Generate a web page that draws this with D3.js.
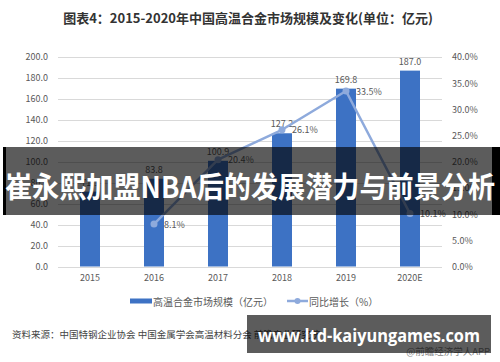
<!DOCTYPE html>
<html>
<head>
<meta charset="utf-8">
<script src="https://cdn.jsdelivr.net/npm/d3@7"></script>
<style>
  html, body { margin: 0; padding: 0; background: #fff; }
  svg { display: block; }
  text { font-family: "Noto Sans CJK SC", "Noto Sans", sans-serif; }
</style>
</head>
<body>
<svg id="chart" width="500" height="362"></svg>
<script>
const titleText = "图表4：2015-2020年中国高温合金市场规模及变化(单位：亿元)";
const years = ["2015", "2016", "2017", "2018", "2019", "2020E"];
const marketSize = [71.5, 83.8, 100.9, 127.2, 169.8, 187.0];
const growth = [null, 8.1, 20.4, 26.1, 33.5, 10.1];
const leftTicks = [0, 20, 40, 60, 80, 100, 120, 140, 160, 180, 200];
const rightTicks = [0, 5, 10, 15, 20, 25, 30, 35, 40];
const legendBar = "高温合金市场规模（亿元）";
const legendLine = "同比增长（%）";
const sourceText = "资料来源：中国特钢企业协会 中国金属学会高温材料分会 前瞻产业研究院";
const creditText = "@前瞻经济学人APP";
const bannerText = "崔永熙加盟NBA后的发展潜力与前景分析";
const urlText = "www.ltd-kaiyungames.com";

const svg = d3.select("#chart");
const barColor = "#3d72c4";
const lineColor = "#8eaadc";
const textColor = "#595959";

const x = d3.scaleBand().domain(years).range([58, 442]).paddingInner(0.6875).paddingOuter(0.34375);
const yL = d3.scaleLinear().domain([0, 200]).range([266.5, 57]);
const yR = d3.scaleLinear().domain([0, 40]).range([266.5, 57]);

// title
svg.append("text").attr("x", 248).attr("y", 17).attr("text-anchor", "middle")
  .attr("dominant-baseline", "central").attr("font-size", 13).attr("font-weight", "bold")
  .attr("fill", "#333").text(titleText);

// gridlines
svg.append("g").selectAll("line").data(leftTicks).join("line")
  .attr("x1", 58).attr("x2", 442)
  .attr("y1", d => Math.round(yL(d)) + 0.5).attr("y2", d => Math.round(yL(d)) + 0.5)
  .attr("stroke", "#d9d9d9").attr("stroke-width", 1);

// left axis
const axL = d3.axisLeft(yL).tickValues(leftTicks).tickFormat(d3.format(".1f")).tickSize(0).tickPadding(10);
const gL = svg.append("g").attr("transform", "translate(58,0)").call(axL);
gL.select(".domain").remove();
gL.selectAll("text").attr("font-size", 9).attr("fill", textColor)
  .attr("font-family", "'Noto Sans CJK SC', sans-serif");

// right axis
const axR = d3.axisRight(yR).tickValues(rightTicks).tickFormat(d => d3.format(".1f")(d) + "%").tickSize(0).tickPadding(10);
const gR = svg.append("g").attr("transform", "translate(442,0)").call(axR);
gR.select(".domain").remove();
gR.selectAll("text").attr("font-size", 9).attr("fill", textColor)
  .attr("font-family", "'Noto Sans CJK SC', sans-serif");

// bottom axis
const axB = d3.axisBottom(x).tickSize(0).tickPadding(8);
const gB = svg.append("g").attr("transform", "translate(0,266.5)").call(axB);
gB.select(".domain").remove();
gB.selectAll("text").attr("font-size", 9).attr("fill", textColor)
  .attr("font-family", "'Noto Sans CJK SC', sans-serif");

// bars
svg.append("g").selectAll("rect").data(years).join("rect")
  .attr("x", d => x(d)).attr("width", x.bandwidth())
  .attr("y", (d, i) => yL(marketSize[i])).attr("height", (d, i) => yL(0) - yL(marketSize[i]))
  .attr("fill", barColor);

// bar labels
svg.append("g").selectAll("text").data(years).join("text")
  .attr("x", d => x(d) + x.bandwidth() / 2).attr("y", (d, i) => yL(marketSize[i]) - 6)
  .attr("text-anchor", "middle").attr("font-size", 9).attr("fill", textColor)
  .text((d, i) => d3.format(".1f")(marketSize[i]));

// line
const pts = years.map((d, i) => ({ d, v: growth[i] })).filter(p => p.v != null);
const line = d3.line().x(p => x(p.d) + x.bandwidth() / 2).y(p => yR(p.v));
svg.append("path").datum(pts).attr("d", line).attr("fill", "none")
  .attr("stroke", lineColor).attr("stroke-width", 2.5).attr("stroke-linejoin", "round");
svg.append("g").selectAll("circle").data(pts).join("circle")
  .attr("cx", p => x(p.d) + x.bandwidth() / 2).attr("cy", p => yR(p.v)).attr("r", 3.5)
  .attr("fill", lineColor);
svg.append("g").selectAll("text").data(pts).join("text")
  .attr("x", p => x(p.d) + x.bandwidth() / 2 + 10).attr("y", p => yR(p.v))
  .attr("dominant-baseline", "central").attr("font-size", 9).attr("fill", textColor)
  .text(p => d3.format(".1f")(p.v) + "%");

// legend
const lg = svg.append("g");
lg.append("rect").attr("x", 130).attr("y", 298.5).attr("width", 22).attr("height", 5).attr("fill", barColor);
lg.append("text").attr("x", 153).attr("y", 301).attr("dominant-baseline", "central")
  .attr("font-size", 10).attr("fill", textColor).text(legendBar);
lg.append("line").attr("x1", 287).attr("x2", 308).attr("y1", 301).attr("y2", 301)
  .attr("stroke", lineColor).attr("stroke-width", 2.5);
lg.append("circle").attr("cx", 297.5).attr("cy", 301).attr("r", 3).attr("fill", lineColor);
lg.append("text").attr("x", 309).attr("y", 301).attr("dominant-baseline", "central")
  .attr("font-size", 10).attr("fill", textColor).text(legendLine);

// source
svg.append("text").attr("x", 12).attr("y", 334).attr("dominant-baseline", "central")
  .attr("font-size", 9.5).attr("fill", "#444").text(sourceText);
svg.append("text").attr("x", 490).attr("y", 351).attr("text-anchor", "end").attr("dominant-baseline", "central")
  .attr("font-size", 9.5).attr("fill", "#888").text(creditText);

// overlay banner
svg.append("rect").attr("x", 3).attr("y", 147).attr("width", 497).attr("height", 68).attr("fill", "rgba(0,0,0,0.64)");
svg.append("rect").attr("x", 3).attr("y", 147).attr("width", 3).attr("height", 68).attr("fill", "#000");
svg.append("rect").attr("x", 492).attr("y", 147).attr("width", 8).attr("height", 68).attr("fill", "#000");
svg.append("text").attr("x", 5).attr("y", 185).attr("dominant-baseline", "central")
  .attr("font-size", 29).attr("font-weight", "bold").attr("fill", "#fff")
  .attr("textLength", 490).attr("lengthAdjust", "spacingAndGlyphs").text(bannerText);

// url banner
svg.append("rect").attr("x", 247).attr("y", 315).attr("width", 244).attr("height", 38).attr("fill", "rgba(0,0,0,0.64)");
svg.append("text").attr("x", 258).attr("y", 335).attr("dominant-baseline", "central")
  .attr("font-size", 18).attr("font-weight", "bold").attr("fill", "#fff")
  .style("font-family", "'Open Sans', 'Noto Sans', sans-serif")
  .attr("textLength", 222).attr("lengthAdjust", "spacingAndGlyphs").text(urlText);
</script>
</body>
</html>
